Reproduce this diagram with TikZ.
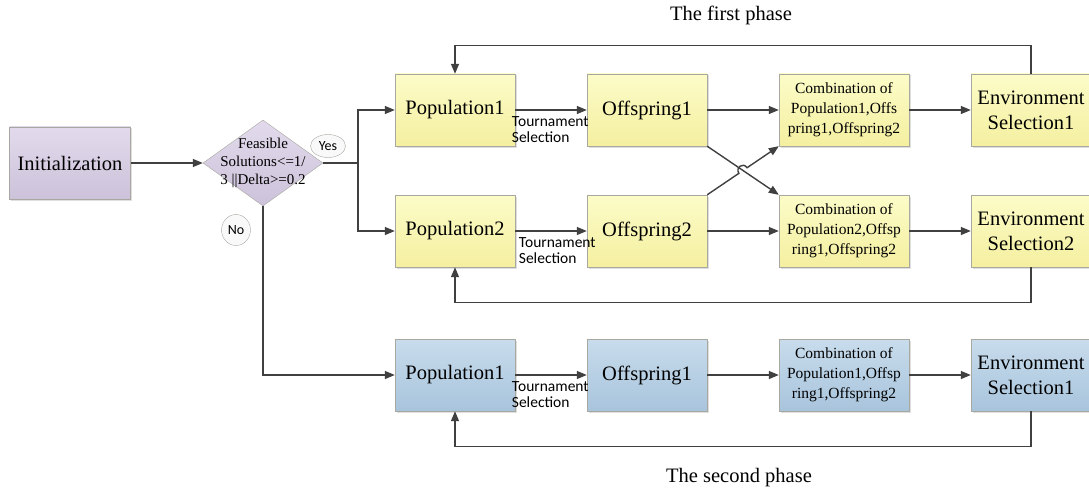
\documentclass[tikz,border=0pt]{standalone}
\usepackage{fontspec}
\setmainfont{Liberation Serif}
\newfontfamily\calib{Carlito}
\usetikzlibrary{arrows.meta,shapes.geometric,shadows}
\definecolor{lineC}{HTML}{404040}
\definecolor{edgeC}{HTML}{A8A8A0}
\definecolor{yelTop}{HTML}{FCFCC8}
\definecolor{yelBot}{HTML}{F4EFA0}
\definecolor{bluTop}{HTML}{C8DCEC}
\definecolor{bluBot}{HTML}{A8C4DC}
\definecolor{purTop}{HTML}{E2DAEC}
\definecolor{purBot}{HTML}{CCC2DA}
\begin{document}
\begin{tikzpicture}[x=1pt,y=-1pt,
	box/.style={rectangle, draw=edgeC, minimum width=120pt, minimum height=72pt, inner sep=2pt, align=center, font=\fontsize{20.5}{25}\selectfont, drop shadow={opacity=0.25, shadow xshift=1.5pt, shadow yshift=-1.5pt}},
	yel/.style={box, top color=yelTop, bottom color=yelBot},
	blu/.style={box, top color=bluTop, bottom color=bluBot},
	comb/.style={minimum width=130pt, font=\fontsize{15.5}{20}\selectfont},
	tsel/.style={anchor=north west, align=left, inner sep=0pt, font=\calib\fontsize{15.5}{16}\selectfont},
	tag/.style={ellipse, draw=edgeC, fill=white!95!gray, inner sep=0pt, font=\calib\fontsize{14}{15}\selectfont},
	flow/.style={draw=lineC, line width=1.4pt, -{Triangle[length=10pt,width=8pt]}},
	wire/.style={draw=lineC, line width=1.4pt}]
	\useasboundingbox (0,0) rectangle (1089,492);
	\node (init) at (70,163)	[box, top color=purTop, bottom color=purBot, minimum width=121pt]	{Initialization};
	\node (cond) at (263,163)	[diamond, draw=edgeC, top color=purTop, bottom color=purBot, minimum width=120pt, minimum height=86pt, inner sep=0pt]	{};
	\node (condtxt) at (263,163)	[align=center, font=\fontsize{15}{18}\selectfont]	{Feasible\\Solutions<=1/\\3 ||Delta>=0.2};
	\node (yes) at (328,146)	[tag, minimum width=35pt, minimum height=23pt]	{Yes};
	\node (no) at (236,230)	[tag, minimum width=29pt, minimum height=31pt]	{No};
	\node (pop1) at (455,110)	[yel]	{Population1};
	\node (off1) at (647,110)	[yel]	{Offspring1};
	\node (comb1) at (844,110)	[yel, comb]	{Combination of\\Population1,Offs\\pring1,Offspring2};
	\node (env1) at (1031,110)	[yel]	{Environment\\Selection1};
	\node (pop2) at (455,231)	[yel]	{Population2};
	\node (off2) at (647,231)	[yel]	{Offspring2};
	\node (comb2) at (844,231)	[yel, comb]	{Combination of\\Population2,Offsp\\ring1,Offspring2};
	\node (env2) at (1031,231)	[yel]	{Environment\\Selection2};
	\node (pop3) at (455,375)	[blu]	{Population1};
	\node (off3) at (647,375)	[blu]	{Offspring1};
	\node (comb3) at (844,375)	[blu, comb]	{Combination of\\Population1,Offsp\\ring1,Offspring2};
	\node (env3) at (1031,375)	[blu]	{Environment\\Selection1};
	\node (phase1) at (731,15)	[font=\fontsize{20.5}{24}\selectfont]	{The first phase};
	\node (phase2) at (739,478)	[font=\fontsize{20.5}{24}\selectfont]	{The second phase};
	\coordinate (split) at (358,163);
	\draw[flow] (init) -- (cond);
	\draw[wire] (cond.east) -- (split);
	\draw[flow] (split) |- (pop1);
	\draw[flow] (split) |- (pop2);
	\draw[flow] (cond.south) |- (pop3);
	\draw[flow] (pop1) -- node[tsel, at start, xshift=-4pt, yshift=-6pt] {Tournament\\Selection} (off1);
	\draw[flow] (pop2) -- node[tsel, at start, xshift=3pt, yshift=-6pt] {Tournament\\Selection} (off2);
	\draw[flow] (pop3) -- node[tsel, at start, xshift=-4pt, yshift=-6pt] {Tournament\\Selection} (off3);
	\draw[flow] (off1) -- (comb1);
	\draw[flow] (off2) -- (comb2);
	\draw[flow] (off3) -- (comb3);
	\draw[flow] (comb1) -- (env1);
	\draw[flow] (comb2) -- (env2);
	\draw[flow] (comb3) -- (env3);
	\draw[flow] (off1.south east) -- (comb2.north west);
	\draw[flow] (off2.north east) -- (738.9,173.3) .. controls (735,167.5) and (743.2,161.9) .. (747.1,167.7) -- (comb1.south west);
	\draw[flow] (env1.north) -- ++(0,-28) -| (pop1.north);
	\draw[flow] (env2.south) -- ++(0,35) -| (pop2.south);
	\draw[flow] (env3.south) -- ++(0,35) -| (pop3.south);
\end{tikzpicture}
\end{document}
